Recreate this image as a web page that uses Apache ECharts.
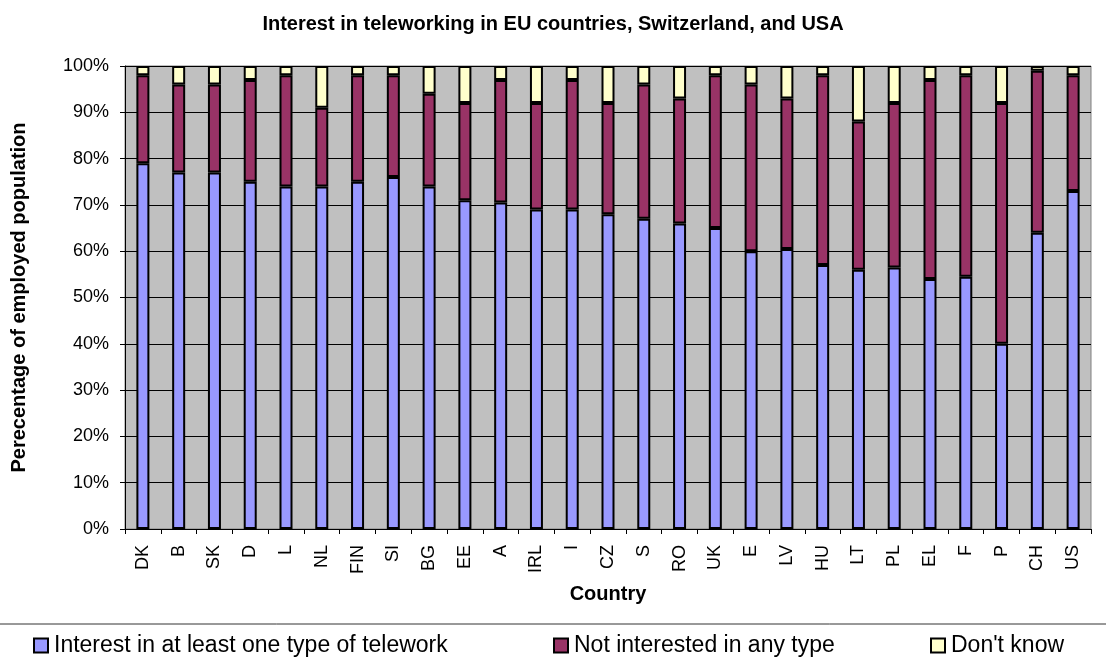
<!DOCTYPE html>
<html>
<head>
<meta charset="utf-8">
<title>Interest in teleworking</title>
<script src="https://cdn.jsdelivr.net/npm/echarts@6/dist/echarts.min.js"></script>
<style>
  html, body { margin: 0; padding: 0; background: #fff; }
  #chart { width: 1106px; height: 664px; }
</style>
</head>
<body>
<div id="chart"></div>
<script>
// Country codes along the category axis
const countries = ['DK', 'B', 'SK', 'D', 'L', 'NL', 'FIN', 'SI', 'BG', 'EE', 'A', 'IRL', 'I', 'CZ',
  'S', 'RO', 'UK', 'E', 'LV', 'HU', 'LT', 'PL', 'EL', 'F', 'P', 'CH', 'US'];

// Shares of employed population (%), stacked to 100
const interested    = [79, 77, 77, 75, 74, 74, 75, 76, 74, 71, 70.5, 69, 69, 68, 67, 66, 65, 60, 60.5, 57, 56, 56.5, 54, 54.5, 40, 64, 73];
const notInterested = [19, 19, 19, 22, 24, 17, 23, 22, 20, 21, 26.5, 23, 28, 24, 29, 27, 33, 36, 32.5, 41, 32, 35.5, 43, 43.5, 52, 35, 25];
const dontKnow      = [2, 4, 4, 3, 2, 9, 2, 2, 6, 8, 3, 8, 3, 8, 4, 7, 2, 4, 7, 2, 12, 8, 3, 2, 8, 1, 2];

// Value axis ticks
const yTicks = { min: 0, max: 100, step: 10 };

const seriesNames = ['Interest in at least one type of telework', 'Not interested in any type', "Don't know"];
const seriesColors = ['#9999FF', '#993366', '#FFFFCC'];

const FONT = '"Liberation Sans", Arial, sans-serif';

const chart = echarts.init(document.getElementById('chart'), null, { renderer: 'canvas' });

function barSeries(name, data, color) {
  return {
    name: name,
    type: 'bar',
    stack: 'total',
    data: data,
    barWidth: 13,
    itemStyle: { color: color, borderColor: '#000', borderWidth: 2 },
    emphasis: { disabled: true }
  };
}

function legendAt(name, left) {
  return {
    data: [name],
    left: left,
    top: 634,
    padding: 0,
    itemWidth: 14,
    itemHeight: 14,
    itemGap: 0,
    icon: 'rect',
    selectedMode: false,
    itemStyle: { borderColor: '#000', borderWidth: 2 },
    textStyle: { fontFamily: FONT, fontSize: 23, color: '#000', padding: [0, 0, 0, 1] }
  };
}

chart.setOption({
  animation: false,
  backgroundColor: '#fff',
  title: {
    text: 'Interest in teleworking in EU countries, Switzerland, and USA',
    left: 'center',
    top: 9,
    textStyle: { fontFamily: FONT, fontSize: 20, fontWeight: 'bold', color: '#000' }
  },
  legend: [
    legendAt(seriesNames[0], 33),
    legendAt(seriesNames[1], 553),
    legendAt(seriesNames[2], 930)
  ],
  grid: {
    left: 125, right: 15, top: 66, bottom: 135,
    show: true,
    backgroundColor: '#C0C0C0',
    borderColor: '#808080',
    borderWidth: 1
  },
  xAxis: {
    type: 'category',
    data: countries,
    name: 'Country',
    nameLocation: 'middle',
    nameGap: 55,
    nameTextStyle: { fontFamily: FONT, fontSize: 20, fontWeight: 'bold', color: '#000' },
    axisLine: { lineStyle: { color: '#000', width: 1 } },
    axisTick: { show: true, length: 5, lineStyle: { color: '#000' } },
    axisLabel: { rotate: 90, interval: 0, margin: 16, fontFamily: FONT, fontSize: 18, color: '#000' }
  },
  yAxis: {
    type: 'value',
    min: yTicks.min,
    max: yTicks.max,
    interval: yTicks.step,
    name: 'Perecentage of employed population',
    nameLocation: 'middle',
    nameGap: 96,
    nameTextStyle: { fontFamily: FONT, fontSize: 20, fontWeight: 'bold', color: '#000' },
    axisLine: { show: true, lineStyle: { color: '#000', width: 1 } },
    axisTick: { show: true, length: 5, lineStyle: { color: '#000' } },
    axisLabel: { formatter: '{value}%', margin: 16, fontFamily: FONT, fontSize: 18, color: '#000' },
    splitLine: { show: true, lineStyle: { color: '#000', width: 1 } }
  },
  graphic: [{
    type: 'line',
    shape: { x1: 0, y1: 624, x2: 1106, y2: 624 },
    style: { stroke: '#333', lineWidth: 1 },
    silent: true
  }],
  series: [
    barSeries(seriesNames[0], interested, seriesColors[0]),
    barSeries(seriesNames[1], notInterested, seriesColors[1]),
    barSeries(seriesNames[2], dontKnow, seriesColors[2])
  ]
});
</script>
</body>
</html>
